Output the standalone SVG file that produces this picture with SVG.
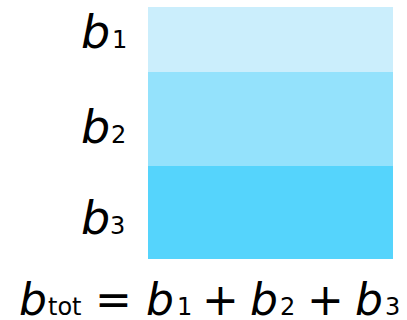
<svg xmlns="http://www.w3.org/2000/svg" width="407" height="320" viewBox="0 0 407 320">
<style>
text{font-family:"DejaVu Sans",Verdana,sans-serif;fill:#000}
.v{font-style:italic;font-size:46px}
.s{font-size:24px}
.fv{font-style:italic;font-size:44px}
.o{font-size:44px}
</style>
<g id="band1"><rect x="148" y="7" width="245" height="65" fill="#cbeefc"/></g>
<g id="band2"><rect x="148" y="72" width="245" height="94" fill="#94e2fc"/></g>
<g id="band3"><rect x="148" y="166" width="245" height="93" fill="#55d4fc"/></g>
<g id="label1"><text class="v" x="81" y="48">b</text><text class="s" x="112" y="48">1</text></g>
<g id="label2"><text class="v" x="81" y="143">b</text><text class="s" x="111" y="143">2</text></g>
<g id="label3"><text class="v" x="81" y="234">b</text><text class="s" x="110" y="234">3</text></g>
<g id="formula">
<text class="fv" x="19" y="315">b</text><text class="s" x="48" y="315">tot</text>
<text class="o" x="95" y="315">=</text>
<text class="fv" x="146" y="315">b</text><text class="s" x="177" y="315">1</text>
<text class="o" x="202" y="315">+</text>
<text class="fv" x="250" y="315">b</text><text class="s" x="280" y="315">2</text>
<text class="o" x="307" y="315">+</text>
<text class="fv" x="355" y="315">b</text><text class="s" x="385" y="315">3</text>
</g>
</svg>
